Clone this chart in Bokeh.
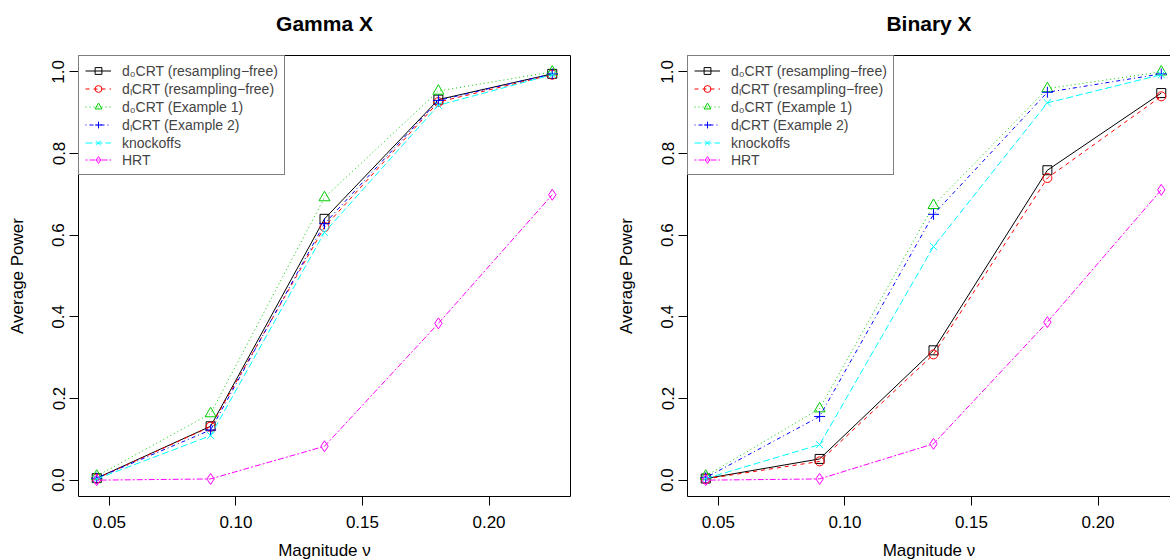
from bokeh.plotting import figure
from bokeh.layouts import row
from bokeh.models import (Range1d, FixedTicker, LinearAxis, Legend, LegendItem,
                          PrintfTickFormatter)
from bokeh.embed import file_html
from bokeh.resources import INLINE

# ---------------- data ----------------
magnitude = [0.045, 0.09, 0.135, 0.18, 0.225]

method_labels = ["d₀CRT (resampling−free)", "dₗCRT (resampling−free)",
                 "d₀CRT (Example 1)", "dₗCRT (Example 2)", "knockoffs", "HRT"]

gamma_d0_rf = [0.005, 0.132, 0.640, 0.932, 0.995]
gamma_dI_rf = [0.004, 0.131, 0.620, 0.926, 0.993]
gamma_d0_ex1 = [0.010, 0.163, 0.692, 0.953, 1.000]
gamma_dI_ex2 = [0.005, 0.123, 0.628, 0.930, 0.995]
gamma_knock = [0.003, 0.109, 0.607, 0.918, 0.993]
gamma_hrt = [0.000, 0.003, 0.083, 0.384, 0.699]

binary_d0_rf = [0.004, 0.052, 0.318, 0.759, 0.948]
binary_dI_rf = [0.003, 0.046, 0.308, 0.740, 0.940]
binary_d0_ex1 = [0.010, 0.175, 0.673, 0.959, 1.000]
binary_dI_ex2 = [0.006, 0.156, 0.651, 0.950, 0.995]
binary_knock = [0.004, 0.087, 0.572, 0.924, 0.993]
binary_hrt = [0.000, 0.003, 0.089, 0.387, 0.711]

x_ticks = [0.05, 0.10, 0.15, 0.20]
y_ticks = [0.0, 0.2, 0.4, 0.6, 0.8, 1.0]

# ---------------- styles ----------------
colors = ["black", "red", "#00CD00", "blue", "cyan", "magenta"]
dashes = ["solid", "4 4", "1 3", "1 3 4 3", "7 3", "2 2 6 2"]
markers = ["square", "circle", "triangle", "cross", "x", "diamond"]
msizes = [9, 9, 11, 11, 10, 11]

FONT = "Liberation Sans"
X0, X1 = 0.0378, 0.2322
Y0, Y1 = -0.04, 1.04
PX_PER_UNIT = 492 / (X1 - X0)


def blank_axis(label=None):
    ax = LinearAxis(ticker=FixedTicker(ticks=[]), major_tick_out=0, major_tick_in=0,
                    minor_tick_out=0, minor_tick_in=0, major_label_text_font_size="0px",
                    major_label_standoff=0,
                    axis_line_color="black", axis_line_width=1)
    if label:
        ax.axis_label = label
        ax.axis_label_text_font = FONT
        ax.axis_label_text_font_size = "21px"
        ax.axis_label_text_font_style = "bold"
        ax.axis_label_text_color = "black"
        ax.axis_label_standoff = 21
    return ax


def make_panel(title, series, frame_w, right_border, add_right):
    x_end = X0 + frame_w / PX_PER_UNIT
    p = figure(frame_width=frame_w, frame_height=441,
               x_range=Range1d(X0, x_end), y_range=Range1d(Y0, Y1),
               output_backend="svg", toolbar_location=None,
               min_border_left=78, min_border_right=right_border,
               min_border_top=55, min_border_bottom=64)
    p.outline_line_color = None
    p.grid.visible = False

    for ax in (p.xaxis[0], p.yaxis[0]):
        ax.axis_line_color = "black"
        ax.major_tick_line_color = "black"
        ax.major_tick_in = 0
        ax.major_tick_out = 9
        ax.minor_tick_line_color = None
        ax.major_label_text_font = FONT
        ax.major_label_text_font_size = "17px"
        ax.major_label_text_color = "black"
        ax.axis_label_text_font = FONT
        ax.axis_label_text_font_size = "17px"
        ax.axis_label_text_font_style = "normal"
        ax.axis_label_text_color = "black"

    p.xaxis.ticker = FixedTicker(ticks=x_ticks)
    p.xaxis.formatter = PrintfTickFormatter(format="%.2f")
    p.xaxis.major_label_standoff = 10
    p.xaxis.axis_label = "Magnitude ν"
    p.xaxis.axis_label_standoff = 10

    p.yaxis.ticker = FixedTicker(ticks=y_ticks)
    p.yaxis.formatter = PrintfTickFormatter(format="%.1f")
    p.yaxis.major_label_orientation = "vertical"
    p.yaxis.major_label_standoff = 5
    p.yaxis.axis_label = "Average Power"
    p.yaxis.axis_label_standoff = 23

    # top frame edge carrying the panel title
    p.add_layout(blank_axis(title), "above")
    if add_right:
        p.add_layout(blank_axis(), "right")

    items = []
    for i, ys in enumerate(series):
        lr = p.line(magnitude, ys, line_color=colors[i], line_width=1,
                    line_dash=dashes[i])
        sr = p.scatter(magnitude, ys, marker=markers[i], size=msizes[i],
                       line_color=colors[i], fill_color=None, line_width=1)
        items.append(LegendItem(label=method_labels[i], renderers=[lr, sr]))

    legend = Legend(items=items, location="top_left", margin=0, padding=6,
                    spacing=0, label_height=17, glyph_height=17, glyph_width=26,
                    label_standoff=11, label_text_font=FONT,
                    label_text_font_size="14px", border_line_color="black",
                    border_line_width=1, background_fill_color="white",
                    background_fill_alpha=1.0)
    p.add_layout(legend)
    return p


p1 = make_panel("Gamma X",
                [gamma_d0_rf, gamma_dI_rf, gamma_d0_ex1, gamma_dI_ex2, gamma_knock, gamma_hrt],
                492, 39, True)
p2 = make_panel("Binary X",
                [binary_d0_rf, binary_dI_rf, binary_d0_ex1, binary_dI_ex2, binary_knock, binary_hrt],
                483, 0, False)

layout = row(p1, p2)
open("out.html", "w").write(file_html(layout, INLINE))
